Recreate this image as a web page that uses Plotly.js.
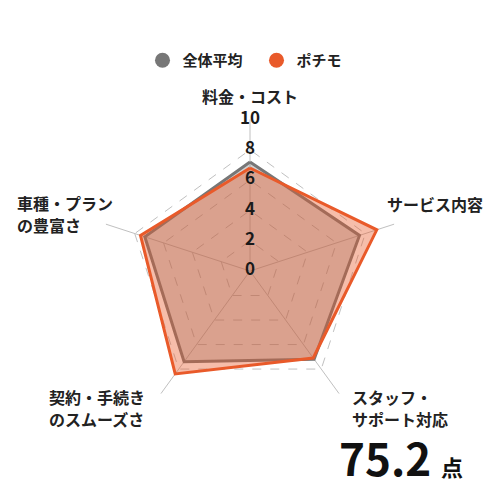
<!DOCTYPE html>
<html>
<head>
<meta charset="utf-8">
<script src="https://cdn.plot.ly/plotly-3.0.1.min.js"></script>
<style>
  html, body { margin: 0; padding: 0; background: #fff; }
  #myDiv { width: 500px; height: 500px; }
</style>
</head>
<body>
<div id="myDiv"></div>
<script>
// categories, clockwise from the top
var categories = ['料金・コスト', 'サービス内容', 'スタッフ・サポート対応', '契約・手続きのスムーズさ', '車種・プランの豊富さ'];
var tickLabels = [['料金・コスト'], ['サービス内容'], ['スタッフ・', 'サポート対応'], ['契約・手続き', 'のスムーズさ'], ['車種・プラン', 'の豊富さ']];

var seriesNames = ['全体平均', 'ポチモ'];
var average = [7.2, 7.6, 7.2, 7.4, 7.3];
var pochimo = [6.8, 8.8, 7.1, 8.4, 7.6];

var radialTicks = [0, 2, 4, 6, 8, 10];
var score = '75.2';
var scoreUnit = '点';

var font = '"Noto Sans CJK JP", "Noto Sans", sans-serif';
var grayColor = '#777777';
var orangeColor = '#e95a2a';

// close the polygon by repeating the first point
function closed(arr) {
    return arr.concat([arr[0]]);
}

var traceAvg = {
    type: 'scatterpolar',
    r: closed(average),
    theta: closed(categories),
    mode: 'lines',
    fill: 'toself',
    fillcolor: 'rgba(120,120,120,0.35)',
    line: { color: grayColor, width: 3 },
    name: seriesNames[0],
    showlegend: false,
    hoverinfo: 'skip'
};

var tracePochimo = {
    type: 'scatterpolar',
    r: closed(pochimo),
    theta: closed(categories),
    mode: 'lines',
    fill: 'toself',
    fillcolor: 'rgba(233,90,42,0.4)',
    line: { color: orangeColor, width: 3 },
    name: seriesNames[1],
    showlegend: false,
    hoverinfo: 'skip'
};

// radial tick numbers sit on the top spoke.
// they go on a second, invisible round polar over the same area,
// because the pentagon one hides a point sitting exactly at r = 0
var traceTicks = {
    type: 'scatterpolar',
    subplot: 'polar2',
    r: radialTicks,
    theta: radialTicks.map(function () { return categories[0]; }),
    mode: 'text',
    text: radialTicks.map(function (v) { return '<b>' + v + '</b>'; }),
    textposition: 'middle center',
    textfont: { family: font, size: 17, color: '#1a1a1a', weight: 'bold' },
    showlegend: false,
    hoverinfo: 'skip'
};

// legend-only entries, drawn as round markers
var legendAvg = {
    type: 'scatterpolar', r: [null], theta: [categories[0]],
    mode: 'markers', marker: { color: grayColor, size: 15 },
    name: seriesNames[0]
};
var legendPochimo = {
    type: 'scatterpolar', r: [null], theta: [categories[0]],
    mode: 'markers', marker: { color: orangeColor, size: 15 },
    name: seriesNames[1]
};

// label anchor: left/center x and first line y, in pixels from the top-left
var labelPos = [
    { x: 250, y: 96, xanchor: 'center' },
    { x: 386, y: 204, xanchor: 'left' },
    { x: 351, y: 397, xanchor: 'left' },
    { x: 48, y: 397, xanchor: 'left' },
    { x: 16, y: 203, xanchor: 'left' }
];
var lineStep = 21.5;

var annotations = [];
tickLabels.forEach(function (lines, i) {
    lines.forEach(function (line, j) {
        annotations.push({
            xref: 'paper', yref: 'paper',
            x: labelPos[i].x / 500,
            y: 1 - (labelPos[i].y + j * lineStep) / 500,
            xanchor: labelPos[i].xanchor, yanchor: 'middle',
            text: '<b>' + line + '</b>',
            showarrow: false,
            borderpad: 0,
            font: { family: font, size: 16, color: '#222' }
        });
    });
});

annotations.push({
    xref: 'paper', yref: 'paper',
    x: 0.676, y: 0.02,
    xanchor: 'left', yanchor: 'bottom',
    text: '<b>' + score + '</b> <span style="font-size:22px"><b>' + scoreUnit + '</b></span>',
    showarrow: false,
    borderpad: 0,
    font: { family: font, size: 44, color: '#111' }
});

var polarDomain = { x: [0.197, 0.803], y: [0.155, 0.761] };

var layout = {
    width: 500,
    height: 500,
    margin: { l: 0, r: 0, t: 0, b: 0 },
    paper_bgcolor: '#fff',
    font: { family: font, color: '#222' },
    showlegend: true,
    legend: {
        orientation: 'h',
        x: 0.285, xanchor: 'left',
        y: 0.879, yanchor: 'middle',
        entrywidth: 69,
        font: { family: font, size: 15, color: '#222', weight: 'bold' },
        itemclick: false
    },
    polar: {
        domain: polarDomain,
        gridshape: 'linear',
        bgcolor: 'rgba(0,0,0,0)',
        radialaxis: {
            range: [0, 10],
            tickvals: radialTicks,
            showticklabels: false,
            ticks: '',
            showline: false,
            gridcolor: '#c0c0c0',
            griddash: 'dash',
            gridwidth: 1,
            angle: 90
        },
        angularaxis: {
            rotation: 90,
            direction: 'clockwise',
            showticklabels: false,
            ticks: '',
            showline: false,
            gridcolor: '#c0c0c0',
            gridwidth: 1
        }
    },
    polar2: {
        domain: polarDomain,
        bgcolor: 'rgba(0,0,0,0)',
        radialaxis: { range: [0, 10], visible: false },
        angularaxis: { rotation: 90, direction: 'clockwise', visible: false }
    },
    annotations: annotations
};

Plotly.newPlot('myDiv', [traceAvg, tracePochimo, legendAvg, legendPochimo, traceTicks], layout, { displayModeBar: false, staticPlot: true });
</script>
</body>
</html>
